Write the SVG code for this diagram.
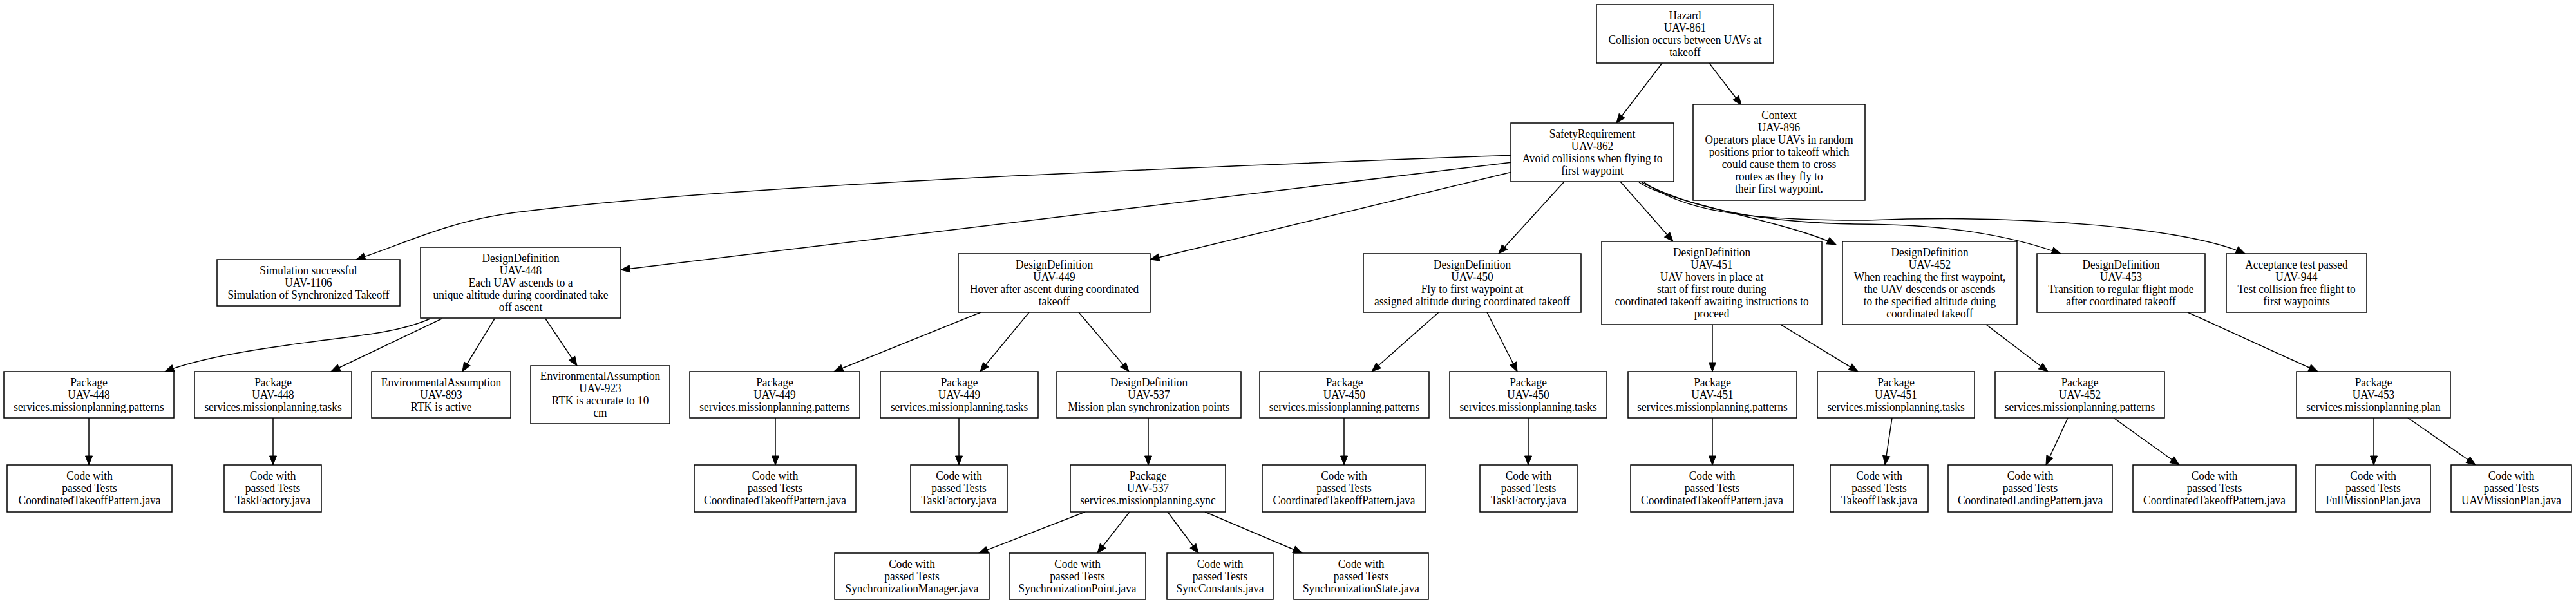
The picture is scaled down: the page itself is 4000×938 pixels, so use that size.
<svg xmlns="http://www.w3.org/2000/svg" width="4000" height="938" viewBox="0 0 4000 938">
<style>
.n rect{fill:#fff;stroke:#000;stroke-width:1.5}
.n text{font-family:"Liberation Serif","Times New Roman",serif;font-size:18.6px;text-anchor:middle;fill:#000}
.e path{fill:none;stroke:#000;stroke-width:1.5;marker-end:url(#ah)}
</style>
<defs>
<marker id="ah" markerUnits="userSpaceOnUse" markerWidth="14" markerHeight="11" refX="14" refY="5.5" orient="auto" overflow="visible">
<path d="M0,0 L14,5.5 L0,11 Z" fill="#000" stroke="#000" stroke-width="1"/>
</marker>
</defs>
<rect x="0" y="0" width="4000" height="938" fill="#fff"/>
<g id="connectors" class="e">
<path d="M2581,98 L2510,191"/>
<path d="M2654,98 L2704,163"/>
<path d="M2348,241 C1900,258 1150,285 800,330 C690,345 630,378 553,403"/>
<path d="M2348,252 L964,419"/>
<path d="M2348,267 L1786,403"/>
<path d="M2429,282 L2327,394"/>
<path d="M2516,282 L2598,375"/>
<path d="M2545,283 C2590,315 2780,345 2851,380"/>
<path d="M2549,283 C2620,320 2720,345 2880,348 C3020,348 3120,365 3200,394"/>
<path d="M2553,283 C2610,325 2700,343 2900,342 C3150,332 3400,355 3486,394"/>
<path d="M668,495 C610,520 540,522 440,537 C360,548 300,560 256,577"/>
<path d="M686,495 L514,577"/>
<path d="M768,495 L718,577"/>
<path d="M847,495 L896,568"/>
<path d="M1523,485 L1295,577"/>
<path d="M1598,485 L1522,577"/>
<path d="M1675,485 L1753,577"/>
<path d="M2234,485 L2130,577"/>
<path d="M2309,485 L2356,577"/>
<path d="M2659,504 L2659,577"/>
<path d="M2765,504 L2885,577"/>
<path d="M3084,504 L3180,577"/>
<path d="M3397,485 L3599,577"/>
<path d="M138,649 L138,722"/>
<path d="M424,649 L424,722"/>
<path d="M1204,649 L1204,722"/>
<path d="M1489,649 L1489,722"/>
<path d="M1783,649 L1783,722"/>
<path d="M2087,649 L2087,722"/>
<path d="M2373,649 L2373,722"/>
<path d="M2659,649 L2659,722"/>
<path d="M2938,649 L2927,722"/>
<path d="M3211,649 L3177,722"/>
<path d="M3282,649 L3384,722"/>
<path d="M3686,649 L3686,722"/>
<path d="M3739,649 L3844,722"/>
<path d="M1685,795 L1520,859"/>
<path d="M1754,795 L1704,859"/>
<path d="M1813,795 L1861,859"/>
<path d="M1871,795 L2022,859"/>
</g>
<g id="hazard-uav861" class="n"><rect x="2479" y="7" width="275" height="91"/><text transform="matrix(0.93 0 0 1 2616.5 0)"><tspan x="0" y="30">Hazard</tspan><tspan x="0" y="49">UAV-861</tspan><tspan x="0" y="68">Collision occurs between UAVs at</tspan><tspan x="0" y="87">takeoff</tspan></text></g>
<g id="sr-uav862" class="n"><rect x="2346" y="191" width="253" height="91"/><text transform="matrix(0.93 0 0 1 2472.5 0)"><tspan x="0" y="214">SafetyRequirement</tspan><tspan x="0" y="233">UAV-862</tspan><tspan x="0" y="252">Avoid collisions when flying to</tspan><tspan x="0" y="271">first waypoint</tspan></text></g>
<g id="ctx-uav896" class="n"><rect x="2629" y="162" width="267" height="149"/><text transform="matrix(0.93 0 0 1 2762.5 0)"><tspan x="0" y="185.5">Context</tspan><tspan x="0" y="204.5">UAV-896</tspan><tspan x="0" y="223.5">Operators place UAVs in random</tspan><tspan x="0" y="242.5">positions prior to takeoff which</tspan><tspan x="0" y="261.5">could cause them to cross</tspan><tspan x="0" y="280.5">routes as they fly to</tspan><tspan x="0" y="299.5">their first waypoint.</tspan></text></g>
<g id="sim-uav1106" class="n"><rect x="337" y="403" width="284" height="72"/><text transform="matrix(0.93 0 0 1 479 0)"><tspan x="0" y="426">Simulation successful</tspan><tspan x="0" y="445">UAV-1106</tspan><tspan x="0" y="464">Simulation of Synchronized Takeoff</tspan></text></g>
<g id="dd-uav448" class="n"><rect x="653" y="384" width="311" height="110"/><text transform="matrix(0.93 0 0 1 808.5 0)"><tspan x="0" y="407">DesignDefinition</tspan><tspan x="0" y="426">UAV-448</tspan><tspan x="0" y="445">Each UAV ascends to a</tspan><tspan x="0" y="464">unique altitude during coordinated take</tspan><tspan x="0" y="483">off ascent</tspan></text></g>
<g id="dd-uav449" class="n"><rect x="1488" y="394" width="298" height="91"/><text transform="matrix(0.93 0 0 1 1637 0)"><tspan x="0" y="417">DesignDefinition</tspan><tspan x="0" y="436">UAV-449</tspan><tspan x="0" y="455">Hover after ascent during coordinated</tspan><tspan x="0" y="474">takeoff</tspan></text></g>
<g id="dd-uav450" class="n"><rect x="2117" y="394" width="338" height="91"/><text transform="matrix(0.93 0 0 1 2286 0)"><tspan x="0" y="417">DesignDefinition</tspan><tspan x="0" y="436">UAV-450</tspan><tspan x="0" y="455">Fly to first waypoint at</tspan><tspan x="0" y="474">assigned altitude during coordinated takeoff</tspan></text></g>
<g id="dd-uav451" class="n"><rect x="2487" y="375" width="342" height="129"/><text transform="matrix(0.93 0 0 1 2658 0)"><tspan x="0" y="398">DesignDefinition</tspan><tspan x="0" y="417">UAV-451</tspan><tspan x="0" y="436">UAV hovers in place at</tspan><tspan x="0" y="455">start of first route during</tspan><tspan x="0" y="474">coordinated takeoff awaiting instructions to</tspan><tspan x="0" y="493">proceed</tspan></text></g>
<g id="dd-uav452" class="n"><rect x="2861" y="375" width="271" height="129"/><text transform="matrix(0.93 0 0 1 2996.5 0)"><tspan x="0" y="398">DesignDefinition</tspan><tspan x="0" y="417">UAV-452</tspan><tspan x="0" y="436">When reaching the first waypoint,</tspan><tspan x="0" y="455">the UAV descends or ascends</tspan><tspan x="0" y="474">to the specified altitude duing</tspan><tspan x="0" y="493">coordinated takeoff</tspan></text></g>
<g id="dd-uav453" class="n"><rect x="3163" y="394" width="261" height="91"/><text transform="matrix(0.93 0 0 1 3293.5 0)"><tspan x="0" y="417">DesignDefinition</tspan><tspan x="0" y="436">UAV-453</tspan><tspan x="0" y="455">Transition to regular flight mode</tspan><tspan x="0" y="474">after coordinated takeoff</tspan></text></g>
<g id="acc-uav944" class="n"><rect x="3457" y="394" width="218" height="91"/><text transform="matrix(0.93 0 0 1 3566 0)"><tspan x="0" y="417">Acceptance test passed</tspan><tspan x="0" y="436">UAV-944</tspan><tspan x="0" y="455">Test collision free flight to</tspan><tspan x="0" y="474">first waypoints</tspan></text></g>
<g id="pkg-uav448-patterns" class="n"><rect x="6" y="577" width="264" height="72"/><text transform="matrix(0.93 0 0 1 138 0)"><tspan x="0" y="600">Package</tspan><tspan x="0" y="619">UAV-448</tspan><tspan x="0" y="638">services.missionplanning.patterns</tspan></text></g>
<g id="pkg-uav448-tasks" class="n"><rect x="302" y="577" width="244" height="72"/><text transform="matrix(0.93 0 0 1 424 0)"><tspan x="0" y="600">Package</tspan><tspan x="0" y="619">UAV-448</tspan><tspan x="0" y="638">services.missionplanning.tasks</tspan></text></g>
<g id="ea-uav893" class="n"><rect x="577" y="577" width="216" height="72"/><text transform="matrix(0.93 0 0 1 685 0)"><tspan x="0" y="600">EnvironmentalAssumption</tspan><tspan x="0" y="619">UAV-893</tspan><tspan x="0" y="638">RTK is active</tspan></text></g>
<g id="ea-uav923" class="n"><rect x="824" y="568" width="216" height="90"/><text transform="matrix(0.93 0 0 1 932 0)"><tspan x="0" y="590.5">EnvironmentalAssumption</tspan><tspan x="0" y="609.5">UAV-923</tspan><tspan x="0" y="628.5">RTK is accurate to 10</tspan><tspan x="0" y="647.5">cm</tspan></text></g>
<g id="pkg-uav449-patterns" class="n"><rect x="1071" y="577" width="264" height="72"/><text transform="matrix(0.93 0 0 1 1203 0)"><tspan x="0" y="600">Package</tspan><tspan x="0" y="619">UAV-449</tspan><tspan x="0" y="638">services.missionplanning.patterns</tspan></text></g>
<g id="pkg-uav449-tasks" class="n"><rect x="1367" y="577" width="245" height="72"/><text transform="matrix(0.93 0 0 1 1489.5 0)"><tspan x="0" y="600">Package</tspan><tspan x="0" y="619">UAV-449</tspan><tspan x="0" y="638">services.missionplanning.tasks</tspan></text></g>
<g id="dd-uav537" class="n"><rect x="1641" y="577" width="286" height="72"/><text transform="matrix(0.93 0 0 1 1784 0)"><tspan x="0" y="600">DesignDefinition</tspan><tspan x="0" y="619">UAV-537</tspan><tspan x="0" y="638">Mission plan synchronization points</tspan></text></g>
<g id="pkg-uav450-patterns" class="n"><rect x="1956" y="577" width="263" height="72"/><text transform="matrix(0.93 0 0 1 2087.5 0)"><tspan x="0" y="600">Package</tspan><tspan x="0" y="619">UAV-450</tspan><tspan x="0" y="638">services.missionplanning.patterns</tspan></text></g>
<g id="pkg-uav450-tasks" class="n"><rect x="2251" y="577" width="244" height="72"/><text transform="matrix(0.93 0 0 1 2373 0)"><tspan x="0" y="600">Package</tspan><tspan x="0" y="619">UAV-450</tspan><tspan x="0" y="638">services.missionplanning.tasks</tspan></text></g>
<g id="pkg-uav451-patterns" class="n"><rect x="2528" y="577" width="262" height="72"/><text transform="matrix(0.93 0 0 1 2659 0)"><tspan x="0" y="600">Package</tspan><tspan x="0" y="619">UAV-451</tspan><tspan x="0" y="638">services.missionplanning.patterns</tspan></text></g>
<g id="pkg-uav451-tasks" class="n"><rect x="2822" y="577" width="244" height="72"/><text transform="matrix(0.93 0 0 1 2944 0)"><tspan x="0" y="600">Package</tspan><tspan x="0" y="619">UAV-451</tspan><tspan x="0" y="638">services.missionplanning.tasks</tspan></text></g>
<g id="pkg-uav452-patterns" class="n"><rect x="3098" y="577" width="263" height="72"/><text transform="matrix(0.93 0 0 1 3229.5 0)"><tspan x="0" y="600">Package</tspan><tspan x="0" y="619">UAV-452</tspan><tspan x="0" y="638">services.missionplanning.patterns</tspan></text></g>
<g id="pkg-uav453-plan" class="n"><rect x="3566" y="577" width="239" height="72"/><text transform="matrix(0.93 0 0 1 3685.5 0)"><tspan x="0" y="600">Package</tspan><tspan x="0" y="619">UAV-453</tspan><tspan x="0" y="638">services.missionplanning.plan</tspan></text></g>
<g id="code-448-ctp" class="n"><rect x="11" y="722" width="256" height="73"/><text transform="matrix(0.93 0 0 1 139 0)"><tspan x="0" y="745.5">Code with</tspan><tspan x="0" y="764.5">passed Tests</tspan><tspan x="0" y="783.5">CoordinatedTakeoffPattern.java</tspan></text></g>
<g id="code-448-tf" class="n"><rect x="348" y="722" width="151" height="73"/><text transform="matrix(0.93 0 0 1 423.5 0)"><tspan x="0" y="745.5">Code with</tspan><tspan x="0" y="764.5">passed Tests</tspan><tspan x="0" y="783.5">TaskFactory.java</tspan></text></g>
<g id="code-449-ctp" class="n"><rect x="1078" y="722" width="251" height="73"/><text transform="matrix(0.93 0 0 1 1203.5 0)"><tspan x="0" y="745.5">Code with</tspan><tspan x="0" y="764.5">passed Tests</tspan><tspan x="0" y="783.5">CoordinatedTakeoffPattern.java</tspan></text></g>
<g id="code-449-tf" class="n"><rect x="1414" y="722" width="150" height="73"/><text transform="matrix(0.93 0 0 1 1489 0)"><tspan x="0" y="745.5">Code with</tspan><tspan x="0" y="764.5">passed Tests</tspan><tspan x="0" y="783.5">TaskFactory.java</tspan></text></g>
<g id="pkg-uav537-sync" class="n"><rect x="1662" y="722" width="241" height="73"/><text transform="matrix(0.93 0 0 1 1782.5 0)"><tspan x="0" y="745.5">Package</tspan><tspan x="0" y="764.5">UAV-537</tspan><tspan x="0" y="783.5">services.missionplanning.sync</tspan></text></g>
<g id="code-450-ctp" class="n"><rect x="1960" y="722" width="254" height="73"/><text transform="matrix(0.93 0 0 1 2087 0)"><tspan x="0" y="745.5">Code with</tspan><tspan x="0" y="764.5">passed Tests</tspan><tspan x="0" y="783.5">CoordinatedTakeoffPattern.java</tspan></text></g>
<g id="code-450-tf" class="n"><rect x="2298" y="722" width="151" height="73"/><text transform="matrix(0.93 0 0 1 2373.5 0)"><tspan x="0" y="745.5">Code with</tspan><tspan x="0" y="764.5">passed Tests</tspan><tspan x="0" y="783.5">TaskFactory.java</tspan></text></g>
<g id="code-451-ctp" class="n"><rect x="2532" y="722" width="253" height="73"/><text transform="matrix(0.93 0 0 1 2658.5 0)"><tspan x="0" y="745.5">Code with</tspan><tspan x="0" y="764.5">passed Tests</tspan><tspan x="0" y="783.5">CoordinatedTakeoffPattern.java</tspan></text></g>
<g id="code-451-tt" class="n"><rect x="2842" y="722" width="152" height="73"/><text transform="matrix(0.93 0 0 1 2918 0)"><tspan x="0" y="745.5">Code with</tspan><tspan x="0" y="764.5">passed Tests</tspan><tspan x="0" y="783.5">TakeoffTask.java</tspan></text></g>
<g id="code-452-clp" class="n"><rect x="3025" y="722" width="255" height="73"/><text transform="matrix(0.93 0 0 1 3152.5 0)"><tspan x="0" y="745.5">Code with</tspan><tspan x="0" y="764.5">passed Tests</tspan><tspan x="0" y="783.5">CoordinatedLandingPattern.java</tspan></text></g>
<g id="code-452-ctp" class="n"><rect x="3312" y="722" width="253" height="73"/><text transform="matrix(0.93 0 0 1 3438.5 0)"><tspan x="0" y="745.5">Code with</tspan><tspan x="0" y="764.5">passed Tests</tspan><tspan x="0" y="783.5">CoordinatedTakeoffPattern.java</tspan></text></g>
<g id="code-453-fmp" class="n"><rect x="3596" y="722" width="178" height="73"/><text transform="matrix(0.93 0 0 1 3685 0)"><tspan x="0" y="745.5">Code with</tspan><tspan x="0" y="764.5">passed Tests</tspan><tspan x="0" y="783.5">FullMissionPlan.java</tspan></text></g>
<g id="code-453-ump" class="n"><rect x="3806" y="722" width="187" height="73"/><text transform="matrix(0.93 0 0 1 3899.5 0)"><tspan x="0" y="745.5">Code with</tspan><tspan x="0" y="764.5">passed Tests</tspan><tspan x="0" y="783.5">UAVMissionPlan.java</tspan></text></g>
<g id="code-537-mgr" class="n"><rect x="1296" y="859" width="240" height="72"/><text transform="matrix(0.93 0 0 1 1416 0)"><tspan x="0" y="882">Code with</tspan><tspan x="0" y="901">passed Tests</tspan><tspan x="0" y="920">SynchronizationManager.java</tspan></text></g>
<g id="code-537-pt" class="n"><rect x="1567" y="859" width="212" height="72"/><text transform="matrix(0.93 0 0 1 1673 0)"><tspan x="0" y="882">Code with</tspan><tspan x="0" y="901">passed Tests</tspan><tspan x="0" y="920">SynchronizationPoint.java</tspan></text></g>
<g id="code-537-const" class="n"><rect x="1812" y="859" width="165" height="72"/><text transform="matrix(0.93 0 0 1 1894.5 0)"><tspan x="0" y="882">Code with</tspan><tspan x="0" y="901">passed Tests</tspan><tspan x="0" y="920">SyncConstants.java</tspan></text></g>
<g id="code-537-state" class="n"><rect x="2009" y="859" width="209" height="72"/><text transform="matrix(0.93 0 0 1 2113.5 0)"><tspan x="0" y="882">Code with</tspan><tspan x="0" y="901">passed Tests</tspan><tspan x="0" y="920">SynchronizationState.java</tspan></text></g>
</svg>
